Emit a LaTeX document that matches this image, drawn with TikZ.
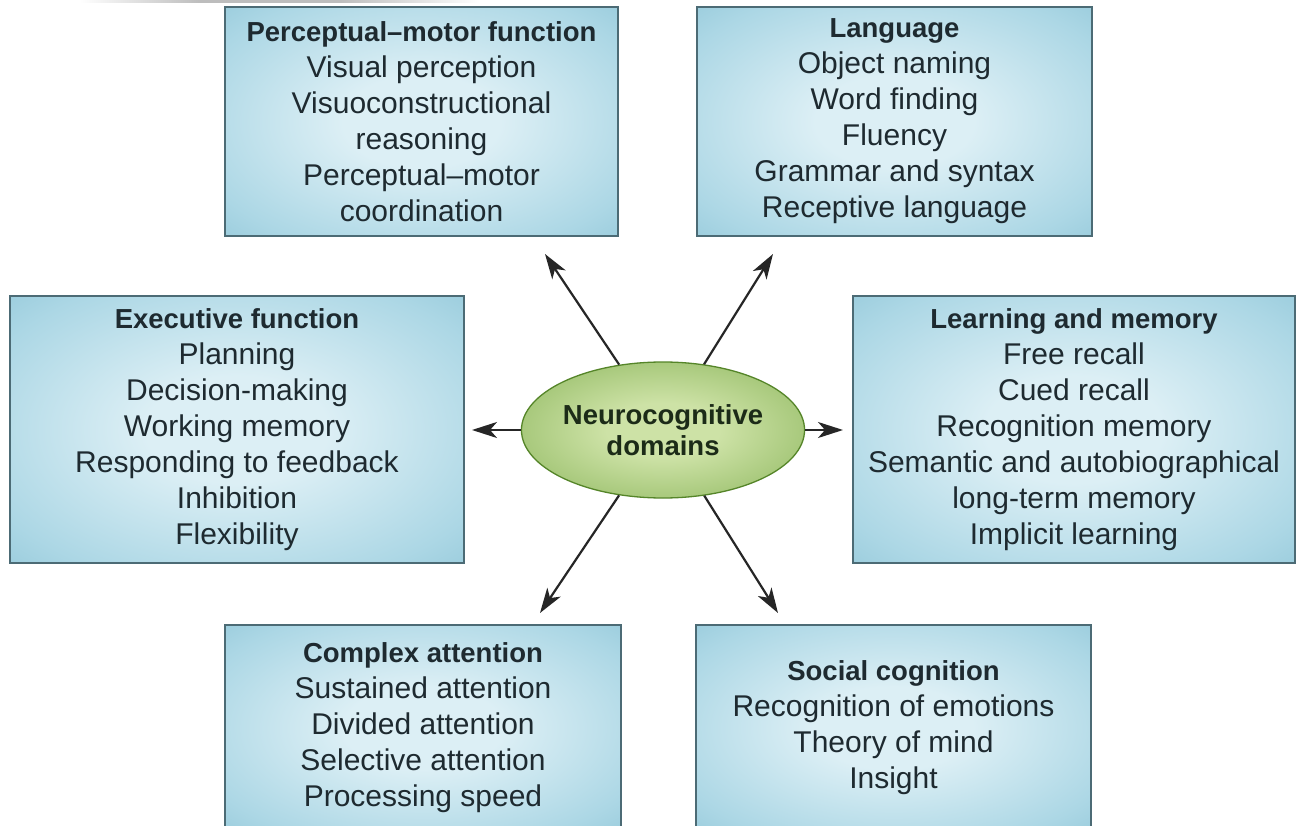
\documentclass[tikz,border=0pt]{standalone}
\usepackage{fontspec}
\setmainfont{Liberation Sans}
\usetikzlibrary{arrows.meta,shapes.geometric}
\definecolor{boxin}{HTML}{DCEFF5}
\definecolor{boxmid}{HTML}{ACD7E5}
\definecolor{boxout}{HTML}{86C0D3}
\definecolor{boxline}{HTML}{4C6B75}
\definecolor{ellin}{HTML}{CDE2A6}
\definecolor{ellout}{HTML}{6FA23C}
\definecolor{ellline}{HTML}{558529}
\definecolor{txt}{HTML}{1E2A30}
\definecolor{ellt}{HTML}{1C2B18}
\definecolor{arrowc}{HTML}{262626}
\definecolor{topbar}{HTML}{BDBDBD}
\pgfdeclareradialshading{boxglow}{\pgfpoint{0bp}{0bp}}{color(0bp)=(boxin); color(10bp)=(boxin); color(30bp)=(boxmid); color(44bp)=(boxout); color(100bp)=(boxout)}
\pgfdeclareradialshading{ellglow}{\pgfpoint{0bp}{0bp}}{color(0bp)=(ellin); color(10bp)=(ellin); color(48bp)=(ellout); color(100bp)=(ellout)}
\newcommand{\hdr}[1]{{\bfseries\fontsize{27.5}{36}\selectfont #1}}
\begin{document}
\begin{tikzpicture}[x=1pt,y=-1pt,
  box/.style={draw=boxline, line width=1.3pt, shade, shading=boxglow, align=center,
    inner sep=0pt, text=txt, font=\fontsize{30}{36}\selectfont},
  ell/.style={ellipse, draw=ellline, line width=1.3pt, shade, shading=ellglow, align=center,
    inner sep=0pt, text=ellt, font=\bfseries\fontsize{27.5}{31}\selectfont},
  link/.style={draw=arrowc, line width=2.2pt, -{Stealth[length=25pt,width=16pt,inset=7pt]}}
]
\useasboundingbox (0,0) rectangle (1296,826);
\fill[white] (0,0) rectangle (1296,826);
% faint gray strip at the very top
\shade[left color=white, right color=topbar] (80,0) rectangle (200,3);
\fill[topbar] (200,0) rectangle (340,3);
\shade[left color=topbar, right color=white] (340,0) rectangle (480,3);

\node[box, minimum width=393pt, minimum height=229pt] (pm) at (421.5,121.5)
  {\hdr{Perceptual–motor function}\\ Visual perception\\ Visuoconstructional\\ reasoning\\ Perceptual–motor\\ coordination};
\node[box, minimum width=395pt, minimum height=229pt] (lang) at (894.5,121.5)
  {\hdr{Language}\\ Object naming\\ Word finding\\ Fluency\\ Grammar and syntax\\ Receptive language};
\node[box, minimum width=454pt, minimum height=267pt] (exe) at (237,429.5)
  {\hdr{Executive function}\\ Planning\\ Decision-making\\ Working memory\\ Responding to feedback\\ Inhibition\\ Flexibility};
\node[box, minimum width=442pt, minimum height=267pt] (lm) at (1074,429.5)
  {\hdr{Learning and memory}\\ Free recall\\ Cued recall\\ Recognition memory\\ Semantic and autobiographical\\ long-term memory\\ Implicit learning};
\node[box, minimum width=396pt, minimum height=206pt] (ca) at (423,728)
  {\hdr{Complex attention}\\ Sustained attention\\ Divided attention\\ Selective attention\\ Processing speed};
\node[box, minimum width=395pt, minimum height=206pt] (sc) at (893.5,728)
  {\hdr{Social cognition}\\ Recognition of emotions\\ Theory of mind\\ Insight};

\node[ell, minimum width=256pt, minimum height=136pt] (nd) at (663,430) {Neurocognitive\\ domains};

\coordinate (tUL) at (545,254);
\coordinate (tUR) at (773,254);
\coordinate (tL) at (472,430);
\coordinate (tR) at (843,430);
\coordinate (tDL) at (540,613);
\coordinate (tDR) at (778,613);

\draw[link] (nd) -- (tUL);
\draw[link] (nd) -- (tUR);
\draw[link] (nd) -- (tL);
\draw[link] (nd) -- (tR);
\draw[link] (nd) -- (tDL);
\draw[link] (nd) -- (tDR);
\end{tikzpicture}
\end{document}
